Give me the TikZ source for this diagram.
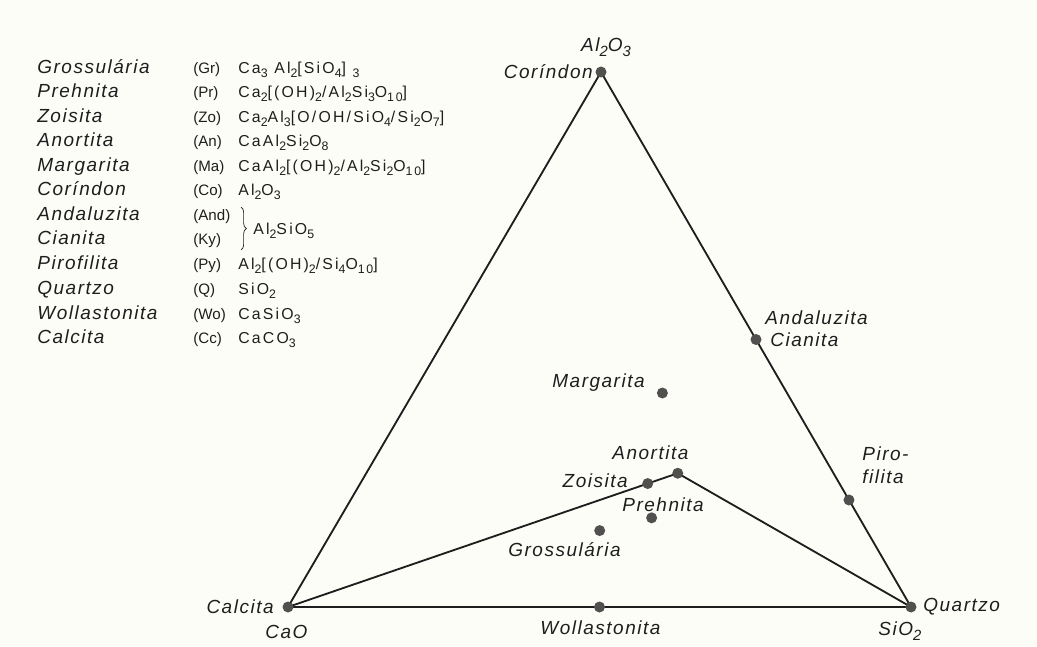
\documentclass[tikz,border=0pt]{standalone}
\usepackage{fontspec}
\setmainfont{Liberation Sans}
\newfontfamily\namefont[LetterSpace=8]{Liberation Sans}
\newfontfamily\formfont[LetterSpace=14]{Liberation Sans}
\usetikzlibrary{decorations.pathreplacing,backgrounds}
\newcommand{\sbs}[1]{\raisebox{-0.45ex}{\scalebox{0.78}{#1}}}
\definecolor{ink}{RGB}{30,30,30}
\definecolor{dotgray}{RGB}{82,80,78}
\definecolor{paper}{RGB}{253,253,248}

\begin{document}
\begin{tikzpicture}[every node/.style={inner sep=0pt,text=ink},
  lab/.style={font=\namefont\fontsize{10.8}{13}\selectfont\itshape},
  frm/.style={font=\formfont\fontsize{9}{11}\selectfont},
  abb/.style={font=\fontsize{8.6}{11}\selectfont},
  dot/.style={circle,fill=dotgray,minimum size=0.22cm},
  side/.style={line width=1.05pt,ink}]
\useasboundingbox (0,0) rectangle (20.74,12.92);
\coordinate (A) at (12.02,11.48);
\coordinate (C) at (5.76,0.78);
\coordinate (S) at (18.22,0.78);
\node[dot] (co) at (A) {};
\node[dot] (cc) at (C) {};
\node[dot] (q) at (S) {};
\node[dot] (ky) at (barycentric cs:A=1,S=1) {};
\node[dot] (py) at (barycentric cs:A=1,S=4) {};
\node[dot] (wo) at (barycentric cs:C=1,S=1) {};
\node[dot] (ma) at (barycentric cs:C=1,A=2,S=2) {};
\node[dot] (an) at (barycentric cs:C=1,A=1,S=2) {};
\node[dot] (zo) at (barycentric cs:C=4,A=3,S=6) {};
\node[dot] (pr) at (barycentric cs:C=2,A=1,S=3) {};
\node[dot] (gr) at (barycentric cs:C=3,A=1,S=3) {};
\begin{scope}[on background layer]
\fill[paper] (0,0) rectangle (20.74,12.92);
\draw[side] (co.center) -- (cc.center) -- (q.center) -- cycle;
\draw[side] (cc.center) -- (an.center) -- (q.center);
\end{scope}
\node[lab,anchor=base] (al2o3) at (12.12,11.89) {Al\sbs2O\sbs3};
\node[lab,anchor=base east] (co-l) at (11.86,11.35) {Coríndon};
\node[lab,anchor=base west] (and-l) at (15.30,6.43) {Andaluzita};
\node[lab,anchor=base west] (ky-l) at (15.40,5.99) {Cianita};
\node[lab,anchor=base west] (ma-l) at (11.04,5.17) {Margarita};
\node[lab,anchor=base west] (an-l) at (12.24,3.73) {Anortita};
\node[lab,anchor=base east] (zo-l) at (12.56,3.17) {Zoisita};
\node[lab,anchor=base west] (pr-l) at (12.44,2.69) {Prehnita};
\node[lab,anchor=base west] (gr-l) at (10.16,1.79) {Grossulária};
\node[lab,anchor=base west,align=left] (py-l) at (17.24,3.25) {Piro-\\filita};
\node[lab,anchor=base east] (cc-l) at (5.48,0.65) {Calcita};
\node[lab,anchor=base west] (cao) at (5.30,0.15) {CaO};
\node[lab,anchor=base west] (wo-l) at (10.80,0.23) {Wollastonita};
\node[lab,anchor=base west] (q-l) at (18.46,0.69) {Quartzo};
\node[lab,anchor=base west] (sio2) at (17.56,0.21) {SiO\sbs2};
\node[lab,anchor=base west] (gr-n) at (0.74,11.45) {Grossulária};
\node[abb,anchor=base west] (gr-a) at (3.86,11.45) {(Gr)};
\node[frm,anchor=base west] (gr-f) at (4.76,11.45) {Ca\sbs3 Al\sbs2[SiO\sbs4] \sbs3};
\node[lab,anchor=base west] (pr-n) at (0.74,10.97) {Prehnita};
\node[abb,anchor=base west] (pr-a) at (3.86,10.97) {(Pr)};
\node[frm,anchor=base west] (pr-f) at (4.76,10.97) {Ca\sbs2[(OH)\sbs2/Al\sbs2Si\sbs3O\sbs{10}]};
\node[lab,anchor=base west] (zo-n) at (0.74,10.47) {Zoisita};
\node[abb,anchor=base west] (zo-a) at (3.86,10.47) {(Zo)};
\node[frm,anchor=base west] (zo-f) at (4.76,10.47) {Ca\sbs2Al\sbs3[O/OH/SiO\sbs4/Si\sbs2O\sbs7]};
\node[lab,anchor=base west] (an-n) at (0.74,9.99) {Anortita};
\node[abb,anchor=base west] (an-a) at (3.86,9.99) {(An)};
\node[frm,anchor=base west] (an-f) at (4.76,9.99) {CaAl\sbs2Si\sbs2O\sbs8};
\node[lab,anchor=base west] (ma-n) at (0.74,9.49) {Margarita};
\node[abb,anchor=base west] (ma-a) at (3.86,9.49) {(Ma)};
\node[frm,anchor=base west] (ma-f) at (4.76,9.49) {CaAl\sbs2[(OH)\sbs2/Al\sbs2Si\sbs2O\sbs{10}]};
\node[lab,anchor=base west] (co-n) at (0.74,9.01) {Coríndon};
\node[abb,anchor=base west] (co-a) at (3.86,9.01) {(Co)};
\node[frm,anchor=base west] (co-f) at (4.76,9.01) {Al\sbs2O\sbs3};
\node[lab,anchor=base west] (and-n) at (0.74,8.51) {Andaluzita};
\node[abb,anchor=base west] (and-a) at (3.86,8.51) {(And)};
\node[lab,anchor=base west] (ky-n) at (0.74,8.03) {Cianita};
\node[abb,anchor=base west] (ky-a) at (3.86,8.03) {(Ky)};
\coordinate (bt) at (4.82,8.78);
\coordinate (bb) at (4.82,7.92);
\draw[ink,decorate,decoration={brace,amplitude=3pt}] (bt) -- (bb);
\node[frm,anchor=base west] (and-f) at (5.06,8.23) {Al\sbs2SiO\sbs5};
\node[lab,anchor=base west] (py-n) at (0.74,7.53) {Pirofilita};
\node[abb,anchor=base west] (py-a) at (3.86,7.53) {(Py)};
\node[frm,anchor=base west] (py-f) at (4.76,7.53) {Al\sbs2[(OH)\sbs2/Si\sbs4O\sbs{10}]};
\node[lab,anchor=base west] (q-n) at (0.74,7.03) {Quartzo};
\node[abb,anchor=base west] (q-a) at (3.86,7.03) {(Q)};
\node[frm,anchor=base west] (q-f) at (4.76,7.03) {SiO\sbs2};
\node[lab,anchor=base west] (wo-n) at (0.74,6.53) {Wollastonita};
\node[abb,anchor=base west] (wo-a) at (3.86,6.53) {(Wo)};
\node[frm,anchor=base west] (wo-f) at (4.76,6.53) {CaSiO\sbs3};
\node[lab,anchor=base west] (cc-n) at (0.74,6.05) {Calcita};
\node[abb,anchor=base west] (cc-a) at (3.86,6.05) {(Cc)};
\node[frm,anchor=base west] (cc-f) at (4.76,6.05) {CaCO\sbs3};
\end{tikzpicture}
\end{document}
